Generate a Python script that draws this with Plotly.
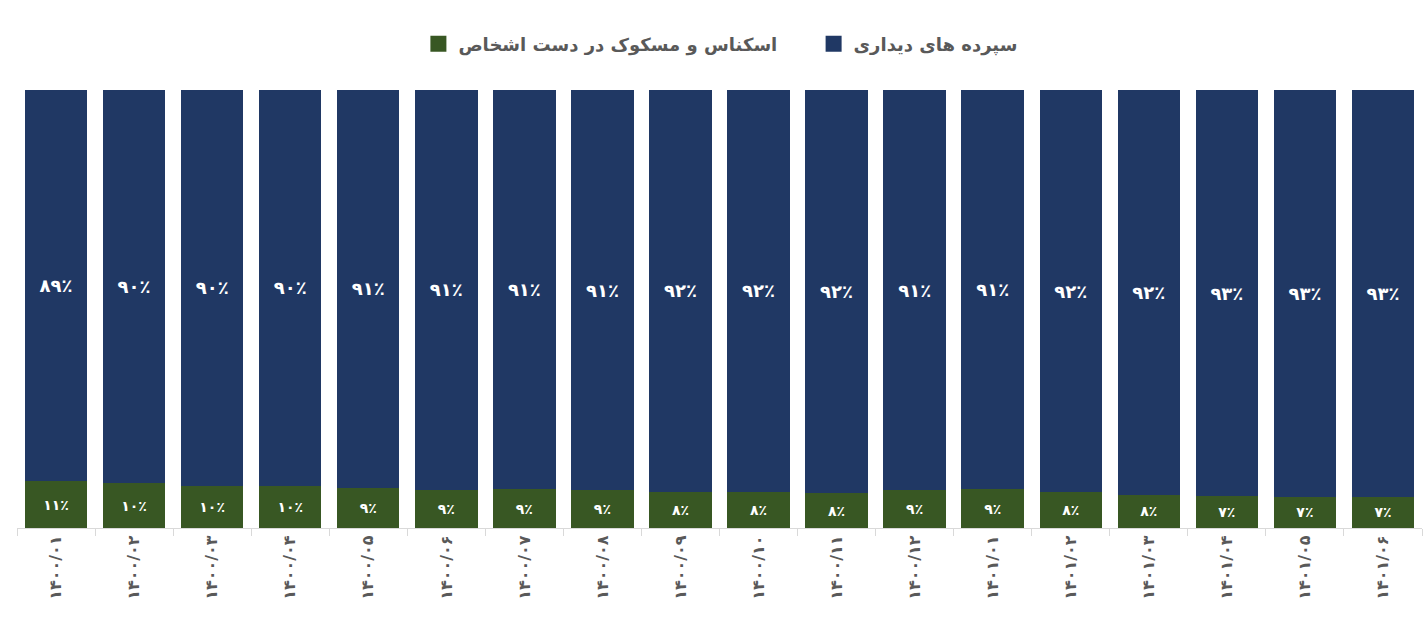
import plotly.graph_objects as go

categories = ["۱۴۰۰/۰۱", "۱۴۰۰/۰۲", "۱۴۰۰/۰۳", "۱۴۰۰/۰۴", "۱۴۰۰/۰۵", "۱۴۰۰/۰۶",
              "۱۴۰۰/۰۷", "۱۴۰۰/۰۸", "۱۴۰۰/۰۹", "۱۴۰۰/۱۰", "۱۴۰۰/۱۱", "۱۴۰۰/۱۲",
              "۱۴۰۱/۰۱", "۱۴۰۱/۰۲", "۱۴۰۱/۰۳", "۱۴۰۱/۰۴", "۱۴۰۱/۰۵", "۱۴۰۱/۰۶"]

cash_share = [10.7, 10.2, 9.7, 9.6, 9.2, 8.7, 8.8, 8.6, 8.3, 8.3, 7.9, 8.6,
              8.8, 8.2, 7.6, 7.3, 7.1, 7.1]
deposit_share = [round(100 - v, 1) for v in cash_share]

cash_labels = ["۱۱٪", "۱۰٪", "۱۰٪", "۱۰٪", "۹٪", "۹٪", "۹٪", "۹٪", "۸٪", "۸٪", "۸٪", "۹٪",
               "۹٪", "۸٪", "۸٪", "۷٪", "۷٪", "۷٪"]
deposit_labels = ["۸۹٪", "۹۰٪", "۹۰٪", "۹۰٪", "۹۱٪", "۹۱٪", "۹۱٪", "۹۱٪", "۹۲٪", "۹۲٪", "۹۲٪", "۹۱٪",
                  "۹۱٪", "۹۲٪", "۹۲٪", "۹۳٪", "۹۳٪", "۹۳٪"]

name_cash = "اسکناس و مسکوک در دست اشخاص"
name_deposit = "سپرده های دیداری"

COLOR_CASH = "#385723"
COLOR_DEP = "#203864"
FONT = "Tahoma, DejaVu Sans, sans-serif"

fig = go.Figure()
fig.add_trace(go.Bar(
    x=categories, y=cash_share, name=name_cash, showlegend=False,
    marker=dict(color=COLOR_CASH, line=dict(width=0)),
    text=cash_labels, textposition="inside", insidetextanchor="middle",
    textfont=dict(family=FONT, size=14, color="white", weight="bold"),
    hoverinfo="skip",
))
fig.add_trace(go.Bar(
    x=categories, y=deposit_share, name=name_deposit, showlegend=False,
    marker=dict(color=COLOR_DEP, line=dict(width=0)),
    text=deposit_labels, textposition="inside", insidetextanchor="middle",
    textfont=dict(family=FONT, size=18, color="white", weight="bold"),
    hoverinfo="skip",
))
# legend entries with larger square swatches
fig.add_trace(go.Scatter(
    x=[None], y=[None], mode="markers", name=name_cash + "\u00a0" * 5,
    marker=dict(symbol="square", size=16, color=COLOR_CASH), hoverinfo="skip",
))
fig.add_trace(go.Scatter(
    x=[None], y=[None], mode="markers", name=name_deposit,
    marker=dict(symbol="square", size=16, color=COLOR_DEP), hoverinfo="skip",
))

fig.update_layout(
    barmode="stack",
    bargap=0.2,
    width=1425, height=626,
    margin=dict(l=17, r=3, t=90, b=98),
    paper_bgcolor="white", plot_bgcolor="white",
    font=dict(family=FONT, color="#595959"),
    showlegend=True,
    legend=dict(orientation="h", x=0.501, xanchor="center", y=1.105, yanchor="middle",
                font=dict(family=FONT, size=18, color="#595959", weight="bold"),
                traceorder="normal", itemsizing="trace", itemwidth=30),
    xaxis=dict(type="category", tickangle=-90, showline=True, linecolor="#d9d9d9", linewidth=1,
               ticks="outside", tickson="boundaries", ticklen=7, tickcolor="#d9d9d9",
               tickfont=dict(family=FONT, size=16, color="#595959", weight="bold"),
               showgrid=False, zeroline=False),
    yaxis=dict(range=[0, 100], visible=False, showgrid=False, zeroline=False),
)

fig.write_html("out.html")
